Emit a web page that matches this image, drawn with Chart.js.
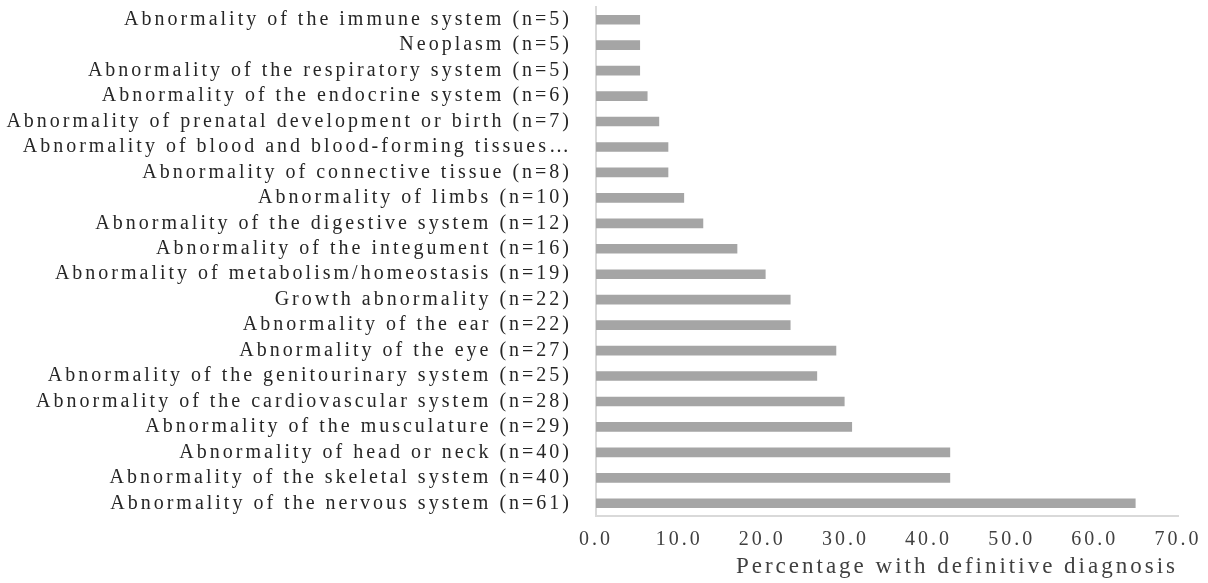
<!DOCTYPE html>
<html>
<head>
<meta charset="utf-8">
<script src="https://cdn.jsdelivr.net/npm/chart.js@4/dist/chart.umd.min.js"></script>
<style>
  html, body { margin: 0; padding: 0; background: #ffffff; }
  #wrap { width: 1208px; height: 583px; position: relative; }
</style>
</head>
<body>
<div id="wrap"><canvas id="c" width="1208" height="583"></canvas></div>
<script>
const categories = [
  "Abnormality of the immune system (n=5)",
  "Neoplasm (n=5)",
  "Abnormality of the respiratory system (n=5)",
  "Abnormality of the endocrine system (n=6)",
  "Abnormality of prenatal development or birth (n=7)",
  "Abnormality of blood and blood-forming tissues\u2026",
  "Abnormality of connective tissue (n=8)",
  "Abnormality of limbs (n=10)",
  "Abnormality of the digestive system (n=12)",
  "Abnormality of the integument (n=16)",
  "Abnormality of metabolism/homeostasis (n=19)",
  "Growth abnormality (n=22)",
  "Abnormality of the ear (n=22)",
  "Abnormality of the eye (n=27)",
  "Abnormality of the genitourinary system (n=25)",
  "Abnormality of the cardiovascular system (n=28)",
  "Abnormality of the musculature (n=29)",
  "Abnormality of head or neck (n=40)",
  "Abnormality of the skeletal system (n=40)",
  "Abnormality of the nervous system (n=61)"
];
const percentages = [
  5.3, 5.3, 5.3, 6.2, 7.6, 8.7, 8.7, 10.6, 12.9, 17.0,
  20.4, 23.4, 23.4, 28.9, 26.6, 29.9, 30.8, 42.6, 42.6, 64.9
];
const xTickMin = 0;
const xTickMax = 70;
const xTickStep = 10;
const xTitle = "Percentage with definitive diagnosis";

const serif = '"Liberation Serif", "Times New Roman", serif';

const spacingPlugin = {
  id: 'spacing',
  beforeLayout(chart) { chart.ctx.letterSpacing = '3px'; },
  beforeDraw(chart) { chart.ctx.letterSpacing = '3px'; }
};

new Chart(document.getElementById('c'), {
  type: 'bar',
  data: {
    labels: categories,
    datasets: [{
      data: percentages,
      backgroundColor: '#a5a5a5',
      borderWidth: 0,
      barPercentage: 0.38,
      categoryPercentage: 1.0
    }]
  },
  plugins: [spacingPlugin],
  options: {
    indexAxis: 'y',
    responsive: false,
    animation: false,
    devicePixelRatio: 1,
    layout: { padding: { top: 7, right: 30, left: 0, bottom: 0 } },
    plugins: { legend: { display: false }, tooltip: { enabled: false } },
    scales: {
      y: {
        type: 'category',
        offset: true,
        grid: { display: false, drawTicks: false },
        border: { display: true, color: '#d9d9d9', width: 2 },
        ticks: {
          color: '#262626',
          padding: 24,
          autoSkip: false,
          font: { family: serif, size: 20 }
        },
        afterFit(scale) {
          scale.width = 596;
          scale.paddingTop = 0;
          scale.paddingBottom = 0;
        }
      },
      x: {
        type: 'linear',
        min: xTickMin,
        max: xTickMax,
        grid: { display: false, drawTicks: false },
        border: { display: true, color: '#d9d9d9', width: 2 },
        ticks: {
          stepSize: xTickStep,
          color: '#404040',
          padding: 12,
          font: { family: serif, size: 20 },
          callback: (v) => Number(v).toFixed(1)
        },
        title: {
          display: true,
          text: xTitle,
          align: 'end',
          color: '#404040',
          padding: { top: 4, bottom: 2 },
          font: { family: serif, size: 23 }
        },
        afterFit(scale) {
          scale.height = 67;
          scale.paddingLeft = 0;
          scale.paddingRight = 0;
        }
      }
    }
  }
});
</script>
</body>
</html>
